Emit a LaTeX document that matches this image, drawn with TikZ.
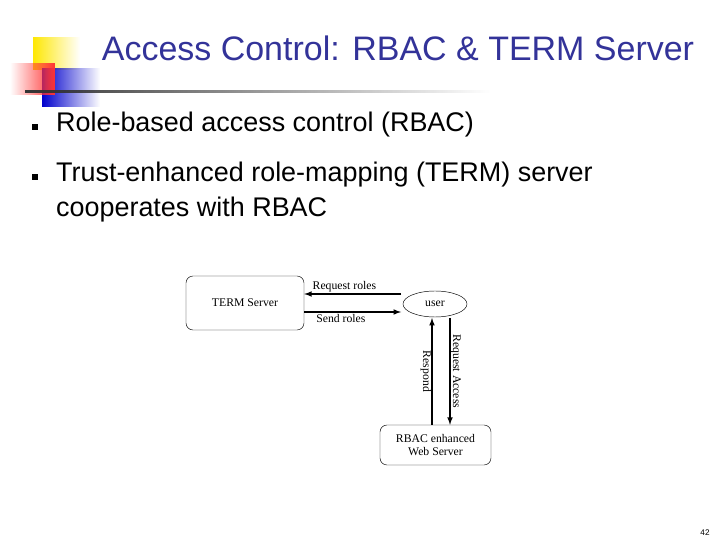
\documentclass[tikz,border=0pt]{standalone}
\usepackage{fontspec}
\setmainfont{Liberation Serif}
\newfontfamily\slidefont{Liberation Sans}
\usetikzlibrary{shapes.geometric,fadings}
\definecolor{titleblue}{rgb}{0.2,0.2,0.6}
\tikzset{
  box/.style={draw, rounded corners=6pt, align=center, font=\fontsize{10}{11}\selectfont},
  flow/.style={-latex, line width=1.2pt},
  lbl/.style={font=\fontsize{10}{11}\selectfont, inner sep=1pt},
  bullet/.style={fill=black, minimum size=5pt, inner sep=0pt},
  item/.style={anchor=west, align=left, font=\slidefont\fontsize{23}{30}\selectfont}
}
\begin{document}
\begin{tikzpicture}[x=0.03cm, y=-0.03cm]
\useasboundingbox (0,0) rectangle (720,540);
% logo
\fill[yellow!90!orange, path fading=east] (33,37) rectangle (80,70);
\fill[blue!80!black, path fading=east] (42,68) rectangle (100,107);
\fill[red!80, path fading=west] (10,63) rectangle (55,95);
\fill[black!80, path fading=east] (25,90) rectangle (490,93);
% title and bullets
\node[text=titleblue, font=\slidefont\fontsize{29}{32}\selectfont] (title) at (398,48) {Access Control: RBAC \& TERM Server};
\node[bullet] (b1) at (35,127) {};
\node[item] (t1) at (52,125) {Role-based access control (RBAC)};
\node[bullet] (b2) at (35,177) {};
\node[item, anchor=north west] (t2) at (52,158) {Trust-enhanced role-mapping (TERM) server\\cooperates with RBAC};
% diagram
\node[box, minimum width=118*0.03cm, minimum height=54*0.03cm] (term) at (245,303) {TERM Server};
\node[draw, ellipse, minimum width=64*0.03cm, minimum height=26*0.03cm, inner sep=0pt, font=\fontsize{10}{11}\selectfont] (user) at (435,304) {user};
\node[box, minimum width=111*0.03cm, minimum height=40*0.03cm] (web) at (435.5,445) {RBAC enhanced\\Web Server};
\coordinate (ua) at (401,294);
\coordinate (ub) at (401,312);
\draw[flow] (ua) -- node[lbl, above, xshift=-7pt] {Request roles} (term.east |- ua);
\draw[flow] (term.east |- ub) -- node[lbl, below, xshift=-10pt] {Send roles} (ub);
\coordinate (wa) at (432,318);
\coordinate (wb) at (450,318);
\draw[flow] (web.north -| wa) -- node[lbl, rotate=-90, anchor=north, yshift=1pt] {Respond} (wa);
\draw[flow] (wb) -- node[lbl, rotate=-90, anchor=south, yshift=-1pt] {Request Access} (web.north -| wb);
\node[font=\slidefont\fontsize{7}{8}\selectfont] (page) at (705,533) {42};
\end{tikzpicture}
\end{document}
